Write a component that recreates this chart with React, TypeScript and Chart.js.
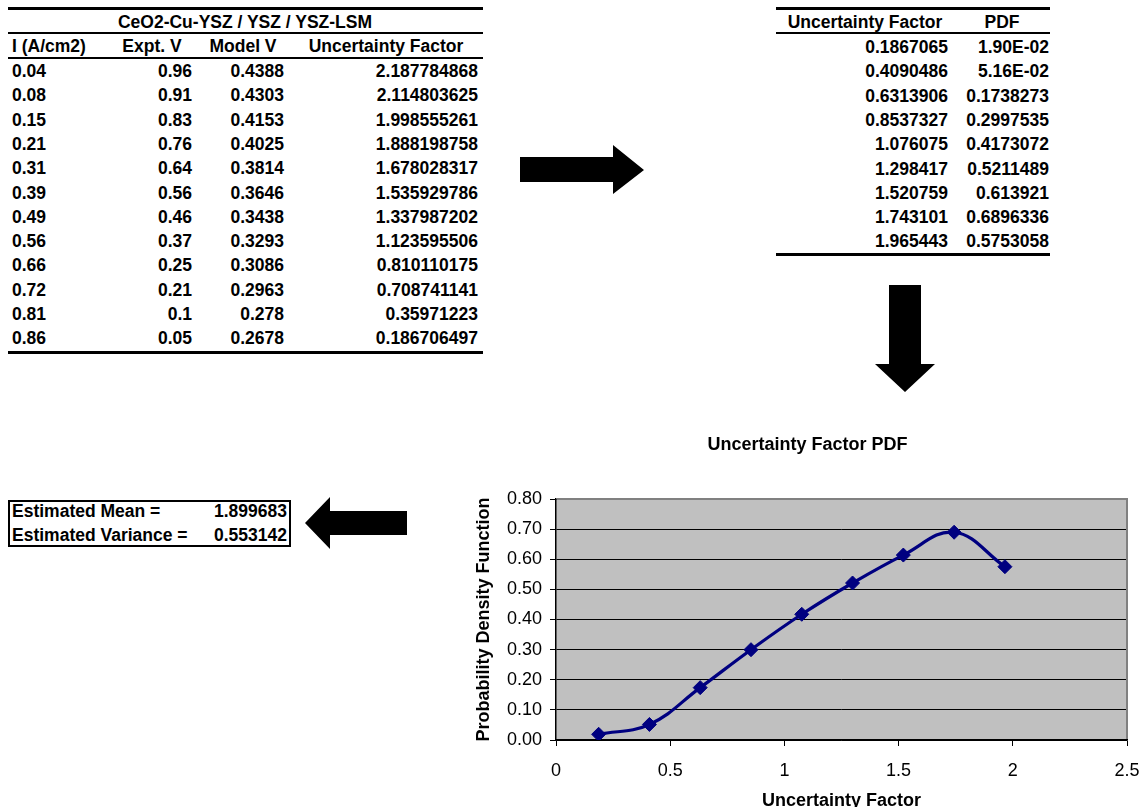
import React, { useEffect, useRef } from "react";
import { Chart, registerables } from "chart.js";
Chart.register(...registerables);

const FONT = '"Liberation Sans", Arial, Helvetica, sans-serif';

// ---- Left table data ----
const tableTitle = "CeO2-Cu-YSZ / YSZ / YSZ-LSM";
const leftHeaders = ["I (A/cm2)", "Expt. V", "Model V", "Uncertainty Factor"];
const currents = [0.04, 0.08, 0.15, 0.21, 0.31, 0.39, 0.49, 0.56, 0.66, 0.72, 0.81, 0.86];
const exptV = [0.96, 0.91, 0.83, 0.76, 0.64, 0.56, 0.46, 0.37, 0.25, 0.21, 0.1, 0.05];
const modelV = [0.4388, 0.4303, 0.4153, 0.4025, 0.3814, 0.3646, 0.3438, 0.3293, 0.3086, 0.2963, 0.278, 0.2678];
const rawFactors = [2.187784868, 2.114803625, 1.998555261, 1.888198758, 1.678028317, 1.535929786, 1.337987202, 1.123595506, 0.810110175, 0.708741141, 0.35971223, 0.186706497];

// ---- Right table / chart data ----
const rightHeaders = ["Uncertainty Factor", "PDF"];
const ufBins = [0.1867065, 0.4090486, 0.6313906, 0.8537327, 1.076075, 1.298417, 1.520759, 1.743101, 1.965443];
const pdfValues = [0.019, 0.0516, 0.1738273, 0.2997535, 0.4173072, 0.5211489, 0.613921, 0.6896336, 0.5753058];

// ---- Summary ----
const summaryLabels = ["Estimated Mean =", "Estimated Variance ="];
const summaryValues = [1.899683, 0.553142];

// ---- Chart text ----
const chartTitle = "Uncertainty Factor PDF";
const xTitle = "Uncertainty Factor";
const yTitle = "Probability Density Function";

const fmtPdf = (v: number) => {
  if (v >= 0.1) return String(v);
  const [m, e] = v.toExponential(2).split("e");
  const n = parseInt(e, 10);
  return `${m}E${n < 0 ? "-" : "+"}${String(Math.abs(n)).padStart(2, "0")}`;
};

const T = ({ x, y, children, align = "left", bold = true, size = 17.5 }: any) => {
  const style: any = {
    position: "absolute",
    top: y - 11,
    height: 22,
    lineHeight: "22px",
    fontSize: size,
    fontWeight: bold ? 700 : 400,
    whiteSpace: "nowrap",
  };
  if (align === "left") style.left = x;
  else if (align === "right") {
    style.left = x - 300;
    style.width = 300;
    style.textAlign = "right";
  } else {
    style.left = x - 200;
    style.width = 400;
    style.textAlign = "center";
  }
  return <div style={style}>{children}</div>;
};

const HLine = ({ x1, x2, y, t }: any) => (
  <div style={{ position: "absolute", left: x1, top: y, width: x2 - x1, height: t, background: "#000" }} />
);

const ROW0L = 71;
const ROW0R = 47;
const ROWH = 24.3;

function LeftTable() {
  const cols = [
    { x: 12, align: "left" },
    { x: 192, align: "right" },
    { x: 284, align: "right" },
    { x: 478, align: "right" },
  ];
  const hdr = [
    { x: 12, align: "left" },
    { x: 152, align: "center" },
    { x: 243, align: "center" },
    { x: 386, align: "center" },
  ];
  return (
    <>
      <HLine x1={8} x2={483} y={7} t={3} />
      <T x={245} y={22} align="center">{tableTitle}</T>
      <HLine x1={8} x2={483} y={32} t={2} />
      {leftHeaders.map((h, i) => (
        <T key={h} x={hdr[i].x} y={46} align={hdr[i].align}>{h}</T>
      ))}
      <HLine x1={8} x2={483} y={57} t={2} />
      {currents.map((c, r) => {
        const vals = [c, exptV[r], modelV[r], rawFactors[r]];
        return vals.map((v, i) => (
          <T key={`${r}-${i}`} x={cols[i].x} y={ROW0L + r * ROWH} align={cols[i].align}>{String(v)}</T>
        ));
      })}
      <HLine x1={8} x2={483} y={351} t={3} />
    </>
  );
}

function RightTable() {
  return (
    <>
      <HLine x1={776} x2={1050} y={7} t={3} />
      <T x={865} y={22} align="center">{rightHeaders[0]}</T>
      <T x={1002} y={22} align="center">{rightHeaders[1]}</T>
      <HLine x1={776} x2={1050} y={32} t={2} />
      {ufBins.map((u, r) => (
        <React.Fragment key={r}>
          <T x={948} y={ROW0R + r * ROWH} align="right">{String(u)}</T>
          <T x={1049} y={ROW0R + r * ROWH} align="right">{fmtPdf(pdfValues[r])}</T>
        </React.Fragment>
      ))}
      <HLine x1={776} x2={1050} y={253} t={3} />
    </>
  );
}

function Summary() {
  return (
    <>
      <div style={{ position: "absolute", left: 8, top: 500, width: 283, height: 47, border: "2px solid #000", boxSizing: "border-box" }} />
      {summaryLabels.map((l, i) => (
        <React.Fragment key={l}>
          <T x={12} y={511 + i * 24} align="left">{l}</T>
          <T x={287} y={511 + i * 24} align="right">{String(summaryValues[i])}</T>
        </React.Fragment>
      ))}
    </>
  );
}

function Arrows() {
  return (
    <svg width={1144} height={807} style={{ position: "absolute", left: 0, top: 0, pointerEvents: "none" }}>
      <polygon points="520,157 613,157 613,145 644,170 613,194 613,182 520,182" fill="#000" />
      <polygon points="889,285 921,285 921,364 935,364 905,392 875,364 889,364" fill="#000" />
      <polygon points="407,511 330,511 330,497 305,523 330,549 330,535 407,535" fill="#000" />
    </svg>
  );
}

function PdfChart() {
  const ref = useRef<HTMLCanvasElement>(null);
  useEffect(() => {
    if (!ref.current) return;
    Chart.defaults.font.family = FONT;
    Chart.defaults.color = "#000";
    const bg = {
      id: "plotBg",
      beforeDraw(chart: any) {
        const { ctx, chartArea: a } = chart;
        ctx.save();
        ctx.fillStyle = "#c0c0c0";
        ctx.fillRect(a.left, a.top, a.right - a.left, a.bottom - a.top);
        ctx.restore();
      },
      beforeDatasetsDraw(chart: any) {
        const { ctx, chartArea: a } = chart;
        ctx.save();
        ctx.strokeStyle = "#808080";
        ctx.lineWidth = 2;
        ctx.beginPath();
        ctx.moveTo(a.left + 1, a.top);
        ctx.lineTo(a.right, a.top);
        ctx.lineTo(a.right, a.bottom - 1);
        ctx.stroke();
        ctx.restore();
      },
    };
    const chart = new Chart(ref.current, {
      type: "scatter",
      data: {
        datasets: [
          {
            data: ufBins.map((x, i) => ({ x, y: pdfValues[i] })),
            showLine: true,
            borderColor: "#000080",
            backgroundColor: "#000080",
            borderWidth: 3.2,
            tension: 0.4,
            pointStyle: "rectRot",
            pointRadius: 7,
            pointBorderWidth: 1,
          },
        ],
      },
      options: {
        animation: false,
        responsive: false,
        layout: { padding: { left: 28, right: 17, top: 0, bottom: 0 } },
        plugins: {
          legend: { display: false },
          tooltip: { enabled: false },
          title: {
            display: true,
            text: chartTitle,
            font: { size: 18, weight: "bold", family: FONT },
            color: "#000",
            padding: { top: 14.2, bottom: 43.2 },
          },
        },
        scales: {
          x: {
            type: "linear",
            min: 0,
            max: 2.5,
            afterFit: (s: any) => {
              s.height = 80;
              s.paddingLeft = 0;
              s.paddingRight = 0;
            },
            ticks: {
              stepSize: 0.5,
              font: { size: 18, family: FONT },
              color: "#000",
              padding: 14,
              maxRotation: 0,
              callback: (v: any) => String(v),
            },
            grid: { drawOnChartArea: false, color: "#000", tickLength: 6, lineWidth: 1 },
            border: { color: "#000", width: 1.5 },
            title: {
              display: true,
              text: xTitle,
              font: { size: 18, weight: "bold", family: FONT },
              color: "#000",
              padding: { top: 0, bottom: 8.5 },
            },
          },
          y: {
            type: "linear",
            min: 0,
            max: 0.8,
            afterFit: (s: any) => {
              s.width = 68;
            },
            ticks: {
              stepSize: 0.1,
              font: { size: 18, family: FONT },
              color: "#000",
              padding: 8,
              callback: (v: any) => Number(v).toFixed(2),
            },
            grid: { color: "#000", tickLength: 6, lineWidth: 1 },
            border: { color: "#000", width: 1.5 },
            title: {
              display: true,
              text: yTitle,
              font: { size: 18, weight: "bold", family: FONT },
              color: "#000",
              padding: { top: -14.8, bottom: 0 },
            },
          },
        },
      },
      plugins: [bg],
    } as any);
    return () => chart.destroy();
  }, []);
  return <canvas ref={ref} width={684} height={400} style={{ position: "absolute", left: 460, top: 420, width: 684, height: 400 }} />;
}

export default function App() {
  return (
    <div
      style={{
        position: "absolute",
        left: 0,
        top: 0,
        width: 1144,
        height: 807,
        overflow: "hidden",
        background: "#fff",
        color: "#000",
        fontFamily: FONT,
      }}
    >
      <LeftTable />
      <RightTable />
      <Summary />
      <Arrows />
      <PdfChart />
    </div>
  );
}
